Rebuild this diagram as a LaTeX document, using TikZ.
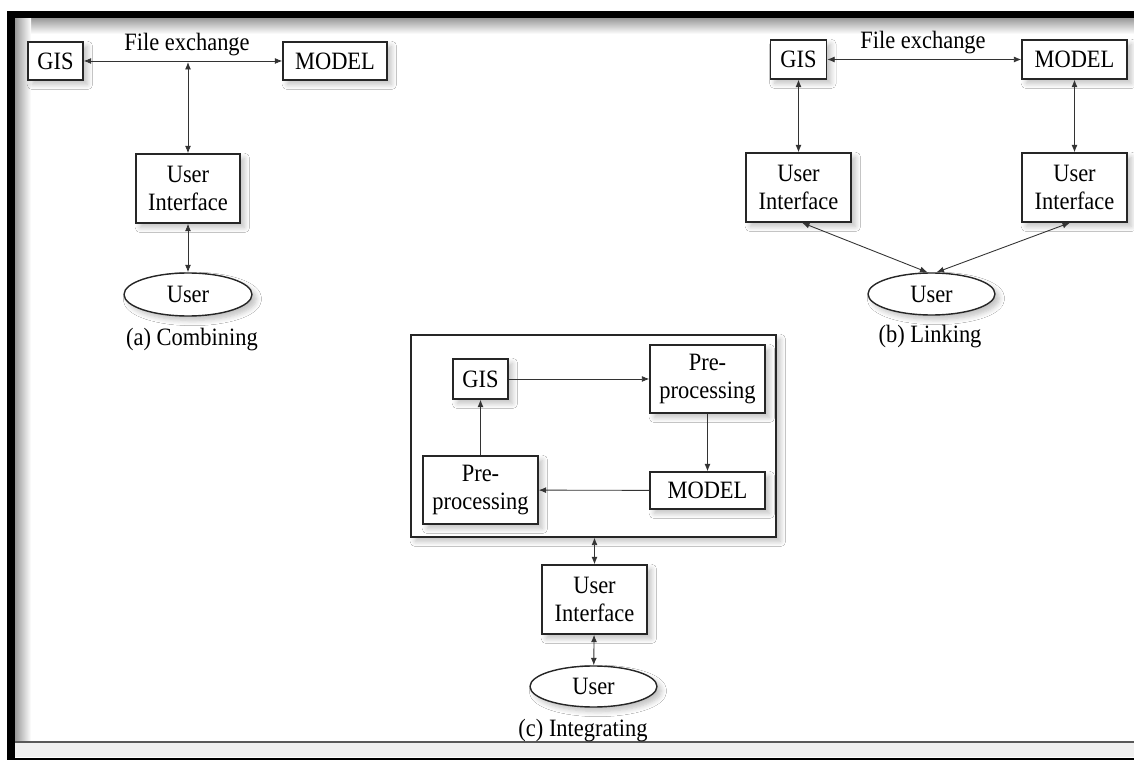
\documentclass[tikz,border=0pt]{standalone}
\usepackage{fontspec}
\setmainfont[FakeStretch=0.9]{Liberation Serif}
\usetikzlibrary{arrows.meta,shapes.geometric,shadows.blur}
\tikzset{
  txt/.style={font=\fontsize{14.2}{16}\selectfont, align=center, inner sep=0pt},
  shad/.style={blur shadow={shadow blur steps=6, shadow xshift=2.5pt, shadow yshift=-2.5pt, shadow opacity=25, shadow blur radius=3pt}},
  box/.style={txt, draw=black!85, line width=0.8pt, fill=white, shad},
  oval/.style={box, ellipse},
  conn/.style={draw=black!80, line width=0.5pt},
  tip/.tip={Latex[length=1.5mm,width=1.2mm]},
  dbl/.style={conn, tip-tip},
  one/.style={conn, -tip},
}
\begin{document}
\begin{tikzpicture}[x=0.02cm, y=-0.02cm]
\useasboundingbox (0,0) rectangle (1134,760);
% frame
\fill[white] (0,0) rectangle (1134,760);
\fill[black!6] (15,743) rectangle (1134,757);
\shade[top color=black!40, bottom color=white] (15,18) rectangle (1134,34);
\shade[left color=black!40, right color=white] (15,18) rectangle (31,742);
\fill[black] (7,11) rectangle (1134,18);
\fill[black] (7,11) rectangle (15,760);
\fill[black] (7,757.5) rectangle (1134,760);
\draw[black!65, line width=1pt] (15,742) -- (1134,742);

% (a) Combining
\node[box, minimum width=1.1cm, minimum height=0.76cm] (gisA) at (55.5,61) {GIS};
\node[box, minimum width=2.08cm, minimum height=0.76cm] (modelA) at (335,61) {MODEL};
\node[box, minimum width=2.08cm, minimum height=1.38cm] (uiA) at (188,188.5) {User\\Interface};
\node[oval, minimum width=2.56cm, minimum height=0.86cm] (userA) at (188,294.5) {User};
\node[txt] (fileA) at (187,45) {File exchange};
\node[txt] (capA) at (192,340) {(a) Combining};
\coordinate (jA) at (188,62);
\draw[dbl] (gisA) -- (modelA);
\draw[dbl] (jA) -- (uiA);
\draw[dbl] (uiA) -- (userA);

% (b) Linking
\node[box, minimum width=1.12cm, minimum height=0.78cm] (gisB) at (798.5,59.5) {GIS};
\node[box, minimum width=2.1cm, minimum height=0.78cm] (modelB) at (1074.5,59.5) {MODEL};
\node[box, minimum width=2.1cm, minimum height=1.38cm] (uiB1) at (798.5,187.5) {User\\Interface};
\node[box, minimum width=2.1cm, minimum height=1.38cm] (uiB2) at (1074.5,187.5) {User\\Interface};
\node[oval, minimum width=2.54cm, minimum height=0.84cm] (userB) at (931.5,294) {User};
\node[txt] (fileB) at (923,43) {File exchange};
\node[txt] (capB) at (930,337) {(b) Linking};
\draw[dbl] (gisB) -- (modelB);
\draw[dbl] (gisB) -- (uiB1);
\draw[dbl] (modelB) -- (uiB2);
\draw[dbl] ([xshift=0.07cm]uiB1.south) -- ([xshift=-0.08cm]userB.north);
\draw[dbl] ([xshift=-0.09cm]uiB2.south) -- ([xshift=0.1cm]userB.north);

% (c) Integrating
\node[box, minimum width=7.3cm, minimum height=4.04cm] (outer) at (593.5,436) {};
\node[box, minimum width=1.1cm, minimum height=0.8cm] (gisC) at (480.5,379) {GIS};
\node[box, minimum width=2.3cm, minimum height=1.36cm] (preC1) at (707.5,379) {Pre-\\processing};
\node[box, minimum width=2.3cm, minimum height=0.74cm] (modelC) at (707.5,490.5) {MODEL};
\node[box, minimum width=2.3cm, minimum height=1.36cm] (preC2) at (480.5,490) {Pre-\\processing};
\node[box, minimum width=2.1cm, minimum height=1.38cm] (uiC) at (594.5,599.5) {User\\Interface};
\node[oval, minimum width=2.54cm, minimum height=0.82cm] (userC) at (593.5,686.5) {User};
\node[txt] (capC) at (583,731) {(c) Integrating};
\draw[one] (gisC) -- (preC1);
\draw[one] (preC1) -- (modelC);
\draw[one] (modelC) -- (preC2);
\draw[one] (preC2) -- (gisC);
\draw[dbl] (outer.south -| uiC.north) -- (uiC);
\draw[dbl] (uiC) -- (userC);
\end{tikzpicture}
\end{document}
